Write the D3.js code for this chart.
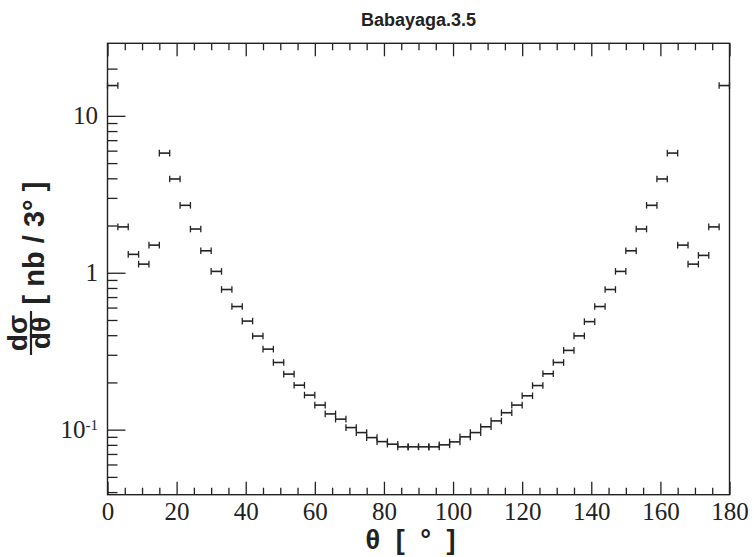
<!DOCTYPE html>
<html>
<head>
<meta charset="utf-8">
<script src="https://cdn.jsdelivr.net/npm/d3@7"></script>
<style>
  html, body { margin: 0; padding: 0; background: #fff; }
  svg { display: block; }
</style>
</head>
<body>
<svg id="chart" width="754" height="557"></svg>
<script>
// Bin centres (degrees) of the 3-degree angular bins
const thetaCenters = [
  1.5, 4.5, 7.5, 10.5, 13.5, 16.5, 19.5, 22.5, 25.5, 28.5,
  31.5, 34.5, 37.5, 40.5, 43.5, 46.5, 49.5, 52.5, 55.5, 58.5,
  61.5, 64.5, 67.5, 70.5, 73.5, 76.5, 79.5, 82.5, 85.5, 88.5,
  91.5, 94.5, 97.5, 100.5, 103.5, 106.5, 109.5, 112.5, 115.5, 118.5,
  121.5, 124.5, 127.5, 130.5, 133.5, 136.5, 139.5, 142.5, 145.5, 148.5,
  151.5, 154.5, 157.5, 160.5, 163.5, 166.5, 169.5, 172.5, 175.5, 178.5
];
const binWidth = 3;

// dsigma/dtheta in nb per 3 degrees
const dSigma = [
  15.6, 1.96, 1.31, 1.135, 1.50, 5.79, 3.96, 2.69, 1.90, 1.38,
  1.02, 0.782, 0.609, 0.492, 0.395, 0.326, 0.268, 0.226, 0.192, 0.166,
  0.1434, 0.126, 0.1167, 0.1031, 0.0958, 0.089, 0.0839, 0.0808, 0.0777, 0.0777,
  0.0777, 0.0777, 0.0800, 0.0836, 0.0900, 0.0958, 0.1043, 0.1137, 0.1282, 0.1434,
  0.1643, 0.191, 0.227, 0.268, 0.320, 0.396, 0.488, 0.609, 0.782, 1.02,
  1.38, 1.90, 2.69, 3.96, 5.79, 1.50, 1.135, 1.29, 1.96, 15.6
];

const xMajor = [0, 20, 40, 60, 80, 100, 120, 140, 160, 180];
const xMinor = [5, 10, 15, 25, 30, 35, 45, 50, 55, 65, 70, 75, 85, 90, 95,
                105, 110, 115, 125, 130, 135, 145, 150, 155, 165, 170, 175];
const yMajor = [0.1, 1, 10];
const yMinor = [0.04, 0.05, 0.06, 0.07, 0.08, 0.09,
                0.2, 0.3, 0.4, 0.5, 0.6, 0.7, 0.8, 0.9,
                2, 3, 4, 5, 6, 7, 8, 9, 20];

const chartTitle = "Babayaga.3.5";

const box = { left: 107.5, right: 729.5, top: 43.3, bottom: 494.7 };
const ink = "#222";

const svg = d3.select("#chart");

const x = d3.scaleLinear().domain([0, 180]).range([box.left, box.right]);
const y = d3.scaleLog().domain([0.0385, 29]).range([box.bottom, box.top]);

const sans = "'Liberation Sans', Arial, sans-serif";
const serif = "'Liberation Serif', 'Times New Roman', 'DejaVu Serif', serif";

// Bottom axis: major ticks with labels, minor ticks inward
const gxb = svg.append("g").attr("transform", `translate(0,${box.bottom})`);
gxb.call(d3.axisBottom(x).tickValues(xMajor).tickSize(-13).tickPadding(7.5)
  .tickFormat(d3.format("d")));
const gxbm = svg.append("g").attr("transform", `translate(0,${box.bottom})`);
gxbm.call(d3.axisBottom(x).tickValues(xMinor).tickSize(-7).tickFormat(""));

// Top axis: ticks only
const gxt = svg.append("g").attr("transform", `translate(0,${box.top})`);
gxt.call(d3.axisTop(x).tickValues(xMajor).tickSize(-13).tickFormat(""));
const gxtm = svg.append("g").attr("transform", `translate(0,${box.top})`);
gxtm.call(d3.axisTop(x).tickValues(xMinor).tickSize(-7).tickFormat(""));

// Left log axis
const gyl = svg.append("g").attr("transform", `translate(${box.left},0)`);
gyl.call(d3.axisLeft(y).tickValues(yMajor).tickSize(-18).tickPadding(9.5)
  .tickFormat(d => d === 0.1 ? "" : d3.format("d")(d)));
const gylm = svg.append("g").attr("transform", `translate(${box.left},0)`);
gylm.call(d3.axisLeft(y).tickValues(yMinor).tickSize(-10).tickFormat(""));

// 10^-1 label with superscript exponent
gyl.selectAll(".tick").filter(d => d === 0.1).select("text")
  .call(t => {
    t.append("tspan").text("10");
    t.append("tspan").attr("font-size", 15).attr("dy", "-0.55em").text("-1");
  });

[gxb, gxbm, gxt, gxtm, gyl, gylm].forEach(g => {
  g.attr("font-family", serif).style("font-family", serif);
  g.select(".domain").remove();
  g.selectAll(".tick line").attr("stroke", ink).attr("stroke-width", 1.3);
  g.selectAll(".tick text").attr("fill", ink).attr("font-size", 25)
    .style("font-family", serif);
});

// Frame
svg.append("rect")
  .attr("x", box.left).attr("y", box.top)
  .attr("width", box.right - box.left).attr("height", box.bottom - box.top)
  .attr("fill", "none").attr("stroke", ink).attr("stroke-width", 1.4);

// Horizontal error bars spanning each bin
const rows = thetaCenters.map((t, i) => ({ lo: t - binWidth / 2, hi: t + binWidth / 2, v: dSigma[i] }));
const bars = svg.append("g").attr("stroke", ink).attr("fill", "none");
bars.selectAll("line.h").data(rows).join("line").attr("class", "h")
  .attr("x1", d => x(d.lo)).attr("x2", d => x(d.hi))
  .attr("y1", d => y(d.v)).attr("y2", d => y(d.v))
  .attr("stroke-width", 1.6);
bars.selectAll("line.cl").data(rows).join("line").attr("class", "cl")
  .attr("x1", d => x(d.lo)).attr("x2", d => x(d.lo))
  .attr("y1", d => y(d.v) - 3.3).attr("y2", d => y(d.v) + 3.3)
  .attr("stroke-width", 1.3);
bars.selectAll("line.cr").data(rows).join("line").attr("class", "cr")
  .attr("x1", d => x(d.hi)).attr("x2", d => x(d.hi))
  .attr("y1", d => y(d.v) - 3.3).attr("y2", d => y(d.v) + 3.3)
  .attr("stroke-width", 1.3);

// Title
svg.append("text")
  .attr("x", (box.left + box.right) / 2).attr("y", 26)
  .attr("text-anchor", "middle").attr("font-family", sans)
  .attr("font-weight", "bold").attr("font-size", 18).attr("fill", ink)
  .text(chartTitle);

// X axis title
svg.append("text")
  .attr("x", (box.left + box.right) / 2 - 6).attr("y", 549)
  .attr("text-anchor", "middle").attr("font-family", sans)
  .attr("font-weight", "bold").attr("font-size", 27).attr("fill", ink)
  .attr("letter-spacing", 4).attr("xml:space", "preserve")
  .text("θ [ ° ]");

// Y axis title: fraction dσ/dθ followed by units
const yt = svg.append("g");
const frac = yt.append("g").attr("transform", "translate(31,333) rotate(-90)");
frac.append("text").attr("x", 0).attr("y", -4)
  .attr("text-anchor", "middle").attr("font-family", sans)
  .attr("font-weight", "bold").attr("font-size", 28).attr("fill", ink).text("dσ");
frac.append("text").attr("x", 0).attr("y", 19)
  .attr("text-anchor", "middle").attr("font-family", sans)
  .attr("font-weight", "bold").attr("font-size", 28).attr("fill", ink).text("dθ");
frac.append("line").attr("x1", -22).attr("x2", 22).attr("y1", 0).attr("y2", 0)
  .attr("stroke", ink).attr("stroke-width", 2.2);
yt.append("text").attr("transform", "translate(44,243) rotate(-90)")
  .attr("text-anchor", "middle").attr("font-family", sans)
  .attr("font-weight", "bold").attr("font-size", 29).attr("fill", ink)
  .text("[ nb / 3° ]");
</script>
</body>
</html>
